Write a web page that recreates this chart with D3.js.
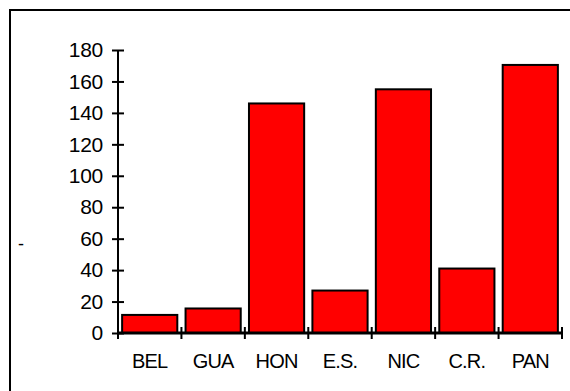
<!DOCTYPE html>
<html>
<head>
<meta charset="utf-8">
<script src="https://cdn.jsdelivr.net/npm/d3@7"></script>
<style>
  html, body { margin: 0; padding: 0; background: #fff; }
  svg { display: block; font-family: "Liberation Sans", Arial, sans-serif; }
</style>
</head>
<body>
<svg id="chart" width="570" height="391"></svg>
<script>
// Country codes along the x axis
const categories = ["BEL", "GUA", "HON", "E.S.", "NIC", "C.R.", "PAN"];
// One value per country
const values = [11.5, 15.6, 146, 27, 155, 41, 170.5];
// Y axis ticks
const yTicks = [0, 20, 40, 60, 80, 100, 120, 140, 160, 180];

const svg = d3.select("#chart");
const W = 570, H = 391;

// Outer frame (runs off the right and bottom edges)
svg.append("rect")
  .attr("x", 10).attr("y", 10)
  .attr("width", W).attr("height", H)
  .attr("fill", "#fff").attr("stroke", "#000").attr("stroke-width", 2);

const plotLeft = 118, plotRight = 562, plotTop = 50, plotBottom = 333;

const x = d3.scaleBand().domain(categories).range([plotLeft, plotRight]).padding(0);
const y = d3.scaleLinear().domain([0, 180]).range([plotBottom, plotTop]);

// Bars
const barW = x.bandwidth() * 0.87;
svg.append("g").selectAll("rect")
  .data(categories)
  .join("rect")
  .attr("x", d => x(d) + (x.bandwidth() - barW) / 2)
  .attr("y", (d, i) => y(values[i]))
  .attr("width", barW)
  .attr("height", (d, i) => y(0) - y(values[i]))
  .attr("fill", "#ff0000")
  .attr("stroke", "#000")
  .attr("stroke-width", 2);

// Y axis with ticks crossing the line
const yAxis = svg.append("g")
  .attr("transform", `translate(${plotLeft},0)`)
  .call(d3.axisLeft(y).tickValues(yTicks).tickSize(6).tickPadding(9));
yAxis.select(".domain").remove();
yAxis.append("line").attr("x1", 0).attr("x2", 0)
  .attr("y1", plotTop).attr("y2", plotBottom + 6)
  .attr("stroke", "#000").attr("stroke-width", 2);
yAxis.selectAll(".tick line").attr("x1", 6).attr("stroke-width", 2);
yAxis.selectAll(".tick text")
  .attr("font-size", 21).attr("fill", "#000")
  .attr("font-family", "Liberation Sans, Arial, sans-serif")
  .attr("letter-spacing", "-0.3");

// X axis baseline
svg.append("line")
  .attr("x1", plotLeft).attr("x2", plotRight)
  .attr("y1", plotBottom).attr("y2", plotBottom)
  .attr("stroke", "#000").attr("stroke-width", 3);

// Category boundary ticks
svg.append("g").selectAll("line")
  .data(categories)
  .join("line")
  .attr("x1", d => x(d) + x.bandwidth())
  .attr("x2", d => x(d) + x.bandwidth())
  .attr("y1", plotBottom - 6).attr("y2", plotBottom + 6)
  .attr("stroke", "#000").attr("stroke-width", 2);

// Category labels
const xAxis = svg.append("g")
  .attr("transform", `translate(0,${plotBottom})`)
  .call(d3.axisBottom(x).tickSize(0).tickPadding(21));
xAxis.select(".domain").remove();
xAxis.selectAll(".tick text")
  .attr("font-size", 20).attr("fill", "#000")
  .attr("font-family", "Liberation Sans, Arial, sans-serif")
  .attr("letter-spacing", "-0.8");

// Y axis title
svg.append("text")
  .attr("x", 21).attr("y", 250)
  .attr("text-anchor", "middle")
  .attr("font-size", 18)
  .text("-");
</script>
</body>
</html>
